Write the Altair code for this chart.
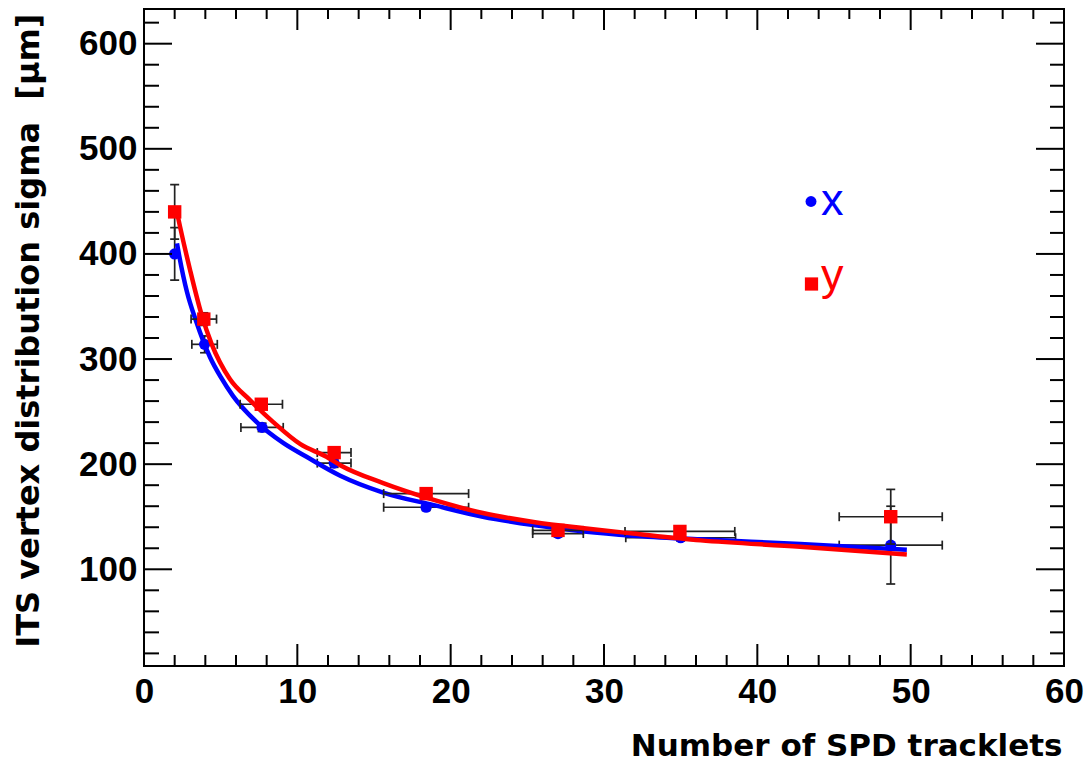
import altair as alt
import pandas as pd

# ---------------- data ----------------
# blue series "x"
bx = [2.0, 3.95, 7.7, 12.4, 18.4, 27.0, 35.0, 48.7]
by = [400, 314, 235, 201, 159, 134, 130, 123]
bxerr = [0.0, 0.83, 1.38, 1.1, 2.77, 1.65, 3.58, 3.36]
byerr = [25, 8, 4, 4, 3, 3, 3, 37]

# red series "y"
rx = [2.0, 3.9, 7.65, 12.4, 18.4, 27.0, 34.95, 48.7]
ry = [440, 338, 257, 211, 172, 137, 136, 150]
rxerr = [0.0, 0.83, 1.38, 1.1, 2.77, 1.65, 3.58, 3.36]
ryerr = [26, 6, 4, 4, 3, 3, 3, 26]

# fitted curves
bcx = [2.15, 2.3, 2.8, 3.4, 4.3, 5.0, 5.8, 7.35, 9.1, 10.6, 12.8, 15.6, 18.9,
       22.1, 25.4, 28.7, 31.9, 36.3, 42.8, 49.75]
bcy = [410, 398, 364, 336, 302, 283, 265, 240, 220, 207, 189, 173, 161,
       150, 142, 136, 132, 128.5, 124, 118.5]
rcx = [2.1, 2.35, 3.0, 3.76, 4.42, 5.6, 6.91, 8.43, 10.2, 11.9, 12.8, 15.6,
       18.9, 22.1, 25.4, 28.7, 31.9, 36.3, 42.8, 49.75]
rcy = [443, 426, 385, 342, 314, 281, 261, 240, 219, 207, 199, 182,
       166, 153.5, 145, 139, 134, 127.5, 121.5, 114]

x_major = [0, 10, 20, 30, 40, 50, 60]
x_minor = [v for v in range(0, 61, 2) if v % 10 != 0]
y_major = [100, 200, 300, 400, 500, 600]
y_minor = [v for v in range(20, 621, 20) if v % 100 != 0]

legend_labels = ["x", "y"]

# ---------------- layout ----------------
W, H = 920, 657
FONT = "Liberation Sans"
TFONT = "DejaVu Sans"
BLUE = "#0000ff"
RED = "#ff0000"
ERR = "#222222"

xscale = alt.Scale(domain=[0, 60], nice=False, zero=False)
yscale = alt.Scale(domain=[8, 633], nice=False, zero=False)

xaxis = alt.Axis(values=x_major, ticks=False, domain=False, grid=False,
                 labelFont=FONT, labelFontSize=35, labelFontWeight="bold",
                 labelColor="black", labelPadding=8, labelFlush=False,
                 labelOverlap=False, format="d",
                 title="Number of SPD tracklets", titleFont=TFONT,
                 titleFontSize=31, titleFontWeight="bold", titleColor="black",
                 titleAlign="right", titleAnchor="end", titleX=918, titleY=89,
                 titleBaseline="alphabetic", titleAngle=0)
yaxis = alt.Axis(values=y_major, ticks=False, domain=False, grid=False,
                 labelFont=FONT, labelFontSize=35, labelFontWeight="bold",
                 labelColor="black", labelPadding=7, labelFlush=False,
                 labelOverlap=False, format="d",
                 title="ITS vertex distribution sigma\u00a0\u00a0[μm]", titleFont=TFONT,
                 titleFontSize=32, titleFontWeight="bold", titleColor="black",
                 titleAlign="right", titleAngle=270, titleX=-106, titleY=4,
                 titleBaseline="alphabetic")


def X(f):
    return alt.X(f, type="quantitative", scale=xscale, axis=xaxis)


def X2(f):
    return alt.X2(f)


def Y(f):
    return alt.Y(f, type="quantitative", scale=yscale, axis=yaxis)


def series_layers(xs, ys, xe, ye, color, shape_mark, curve_x, curve_y):
    df = pd.DataFrame({"x": xs, "y": ys, "xe": xe, "ye": ye})
    df["xlo"] = df["x"] - df["xe"]
    df["xhi"] = df["x"] + df["xe"]
    df["ylo"] = df["y"] - df["ye"]
    df["yhi"] = df["y"] + df["ye"]
    dfx = df[df["xe"] > 0]
    layers = []
    layers.append(alt.Chart(dfx).mark_rule(color=ERR, strokeWidth=1.7).encode(
        x=X("xlo"), x2=X2("xhi"), y=Y("y")))
    layers.append(alt.Chart(df).mark_rule(color=ERR, strokeWidth=1.7).encode(
        x=X("x"), y=Y("ylo"), y2=alt.Y2("yhi")))
    capsx = pd.concat([dfx[["xlo", "y"]].rename(columns={"xlo": "cx"}),
                       dfx[["xhi", "y"]].rename(columns={"xhi": "cx"})])
    capsy = pd.concat([df[["x", "ylo"]].rename(columns={"ylo": "cy"}),
                       df[["x", "yhi"]].rename(columns={"yhi": "cy"})])
    layers.append(alt.Chart(capsx).mark_tick(orient="vertical", size=9, thickness=1.7,
                                             color=ERR, opacity=1).encode(
        x=X("cx"), y=Y("y")))
    layers.append(alt.Chart(capsy).mark_tick(orient="horizontal", size=9, thickness=1.7,
                                             color=ERR, opacity=1).encode(
        x=X("x"), y=Y("cy")))
    if shape_mark == "circle":
        m = alt.Chart(df).mark_circle(color=color, size=125, opacity=1)
    else:
        m = alt.Chart(df).mark_square(color=color, size=180, opacity=1)
    layers.append(m.encode(x=X("x"), y=Y("y")))
    cdf = pd.DataFrame({"cx": curve_x, "cy": curve_y})
    layers.append(alt.Chart(cdf).mark_line(color=color, strokeWidth=4.5,
                                           interpolate="monotone").encode(
        x=X("cx"), y=Y("cy")))
    return layers


blue_layers = series_layers(bx, by, bxerr, byerr, BLUE, "circle", bcx, bcy)
red_layers = series_layers(rx, ry, rxerr, ryerr, RED, "square", rcx, rcy)

# inward frame ticks (ROOT style)
xmaj_df = pd.DataFrame({"v": x_major})
xmin_df = pd.DataFrame({"v": x_minor})
ymaj_df = pd.DataFrame({"v": y_major})
ymin_df = pd.DataFrame({"v": y_minor})

tick_layers = [
    alt.Chart(xmaj_df).mark_rule(color="black", strokeWidth=2).encode(
        x=X("v"), y=alt.value(H), y2=alt.value(H - 22)),
    alt.Chart(xmin_df).mark_rule(color="black", strokeWidth=2).encode(
        x=X("v"), y=alt.value(H), y2=alt.value(H - 11)),
    alt.Chart(xmaj_df).mark_rule(color="black", strokeWidth=2).encode(
        x=X("v"), y=alt.value(0), y2=alt.value(21)),
    alt.Chart(xmin_df).mark_rule(color="black", strokeWidth=2).encode(
        x=X("v"), y=alt.value(0), y2=alt.value(10)),
    alt.Chart(ymaj_df).mark_rule(color="black", strokeWidth=2).encode(
        y=Y("v"), x=alt.value(0), x2=alt.value(28)),
    alt.Chart(ymin_df).mark_rule(color="black", strokeWidth=2).encode(
        y=Y("v"), x=alt.value(0), x2=alt.value(15)),
    alt.Chart(ymaj_df).mark_rule(color="black", strokeWidth=2).encode(
        y=Y("v"), x=alt.value(W), x2=alt.value(W - 28)),
    alt.Chart(ymin_df).mark_rule(color="black", strokeWidth=2).encode(
        y=Y("v"), x=alt.value(W), x2=alt.value(W - 14)),
]

# legend (manual, ROOT-like)
one = pd.DataFrame({"k": [0]})
legend_layers = [
    alt.Chart(one).mark_circle(color=BLUE, size=120, opacity=1).encode(
        x=alt.value(667), y=alt.value(192.5)),
    alt.Chart(one).mark_square(color=RED, size=175, opacity=1).encode(
        x=alt.value(667.5), y=alt.value(275)),
    alt.Chart(one).mark_text(text=legend_labels[0], color=BLUE, font=FONT, fontSize=45,
                             align="left", baseline="alphabetic").encode(
        x=alt.value(677), y=alt.value(206)),
    alt.Chart(one).mark_text(text=legend_labels[1], color=RED, font=FONT, fontSize=45,
                             align="left", baseline="alphabetic").encode(
        x=alt.value(677), y=alt.value(281)),
]

chart = alt.layer(*blue_layers, *red_layers, *tick_layers, *legend_layers).properties(
    width=W, height=H,
    padding={"left": 144, "top": 9, "right": 25, "bottom": 101},
    autosize="none", background="white",
).configure_view(stroke="black", strokeWidth=2)

chart.save("out.html", embed_options={"renderer": "svg", "actions": False})
